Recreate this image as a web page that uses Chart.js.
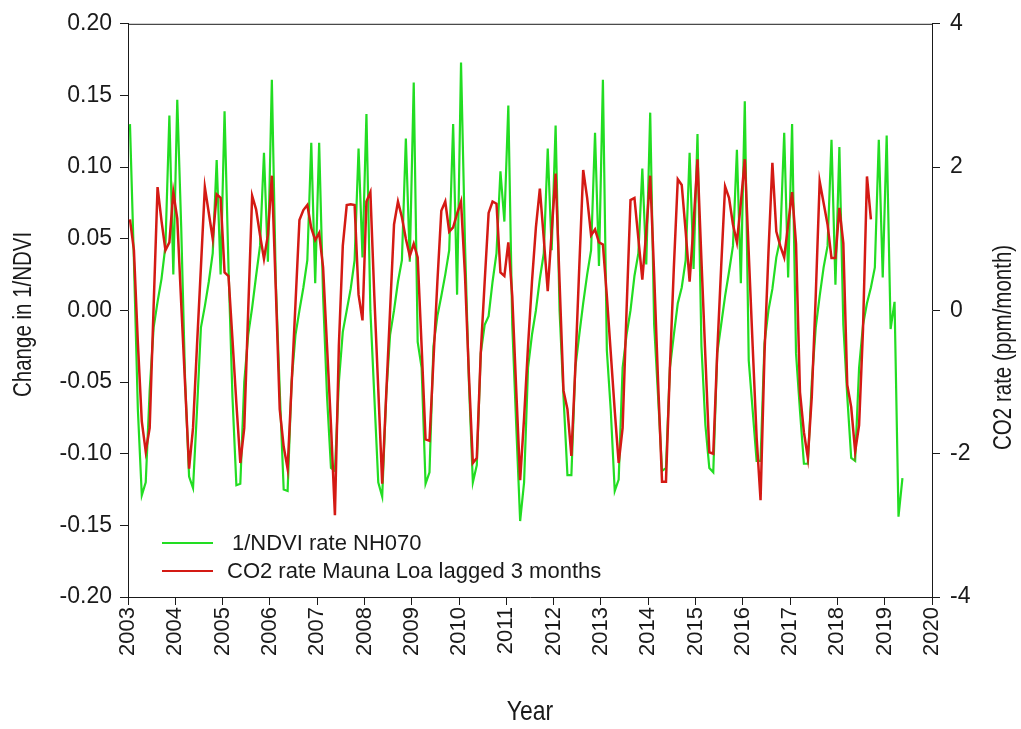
<!DOCTYPE html>
<html>
<head>
<meta charset="utf-8">
<script src="https://cdn.jsdelivr.net/npm/chart.js@4.4.1/dist/chart.umd.min.js"></script>
<style>
  html, body { margin: 0; padding: 0; background: #ffffff; }
  #wrap { width: 1021px; height: 729px; }
</style>
</head>
<body>
<div id="wrap"><canvas id="chart" width="1021" height="729"></canvas></div>
<script>
// Monthly series, first value = January 2003
const startYear = 2003;

// Month-to-month change in 1/NDVI, NH070 (Jan 2003 - May 2019)
const ndviRate = [
  0.130, 0.035, -0.069, -0.129, -0.120, -0.056, -0.012, 0.006, 0.022, 0.045, 0.136, 0.025,
  0.147, 0.058, -0.050, -0.116, -0.124, -0.070, -0.012, 0.003, 0.020, 0.040, 0.105, 0.025,
  0.139, 0.030, -0.060, -0.122, -0.121, -0.050, -0.017, 0.002, 0.024, 0.045, 0.110, 0.034,
  0.161, 0.020, -0.056, -0.125, -0.126, -0.050, -0.017, 0.000, 0.016, 0.035, 0.117, 0.019,
  0.117, 0.010, -0.060, -0.110, -0.112, -0.050, -0.015, 0.000, 0.015, 0.035, 0.113, 0.037,
  0.137, 0.000, -0.060, -0.120, -0.130, -0.060, -0.017, 0.000, 0.020, 0.035, 0.120, 0.034,
  0.159, -0.022, -0.040, -0.121, -0.113, -0.025, -0.004, 0.010, 0.025, 0.042, 0.130, 0.011,
  0.173, 0.047, -0.050, -0.120, -0.108, -0.030, -0.010, -0.004, 0.020, 0.040, 0.097, 0.062,
  0.143, -0.010, -0.080, -0.147, -0.120, -0.040, -0.017, 0.000, 0.022, 0.040, 0.113, 0.042,
  0.129, 0.000, -0.060, -0.115, -0.115, -0.040, -0.017, 0.005, 0.025, 0.042, 0.124, 0.031,
  0.161, -0.028, -0.070, -0.126, -0.118, -0.040, -0.017, 0.000, 0.024, 0.040, 0.099, 0.032,
  0.138, -0.010, -0.060, -0.112, -0.110, -0.040, -0.017, 0.005, 0.016, 0.035, 0.110, 0.029,
  0.123, -0.025, -0.080, -0.110, -0.113, -0.030, -0.010, 0.010, 0.027, 0.045, 0.112, 0.019,
  0.146, -0.035, -0.070, -0.105, -0.105, -0.023, 0.000, 0.015, 0.037, 0.050, 0.124, 0.023,
  0.130, -0.030, -0.070, -0.107, -0.107, -0.050, -0.012, 0.010, 0.030, 0.045, 0.119, 0.018,
  0.114, -0.010, -0.060, -0.103, -0.105, -0.040, -0.010, 0.005, 0.016, 0.030, 0.119, 0.023,
  0.122, -0.013, 0.006, -0.144, -0.117
];

// CO2 growth rate at Mauna Loa, ppm/month, lagged 3 months (Jan 2003 - Sep 2018)
const co2Rate = [
  1.27, 0.84, -0.45, -1.55, -1.97, -1.64, 0.05, 1.72, 1.25, 0.84, 0.95, 1.65,
  1.28, 0.10, -1.05, -2.21, -1.64, -0.50, 0.60, 1.72, 1.36, 1.00, 1.62, 1.57,
  0.53, 0.48, -0.40, -1.30, -2.13, -1.64, 0.00, 1.60, 1.41, 1.05, 0.72, 1.05,
  1.88, 0.30, -1.38, -1.90, -2.21, -1.05, 0.10, 1.26, 1.40, 1.47, 1.15, 0.98,
  1.08, 0.60, -0.50, -1.60, -2.86, -0.50, 0.90, 1.47, 1.48, 1.47, 0.22, -0.14,
  1.52, 1.65, 0.20, -1.10, -2.42, -1.20, 0.00, 1.20, 1.52, 1.30, 1.00, 0.76,
  0.93, 0.74, -0.50, -1.80, -1.82, -0.70, 0.40, 1.39, 1.52, 1.10, 1.16, 1.35,
  1.52, 0.50, -0.90, -2.13, -2.06, -0.60, 0.40, 1.36, 1.52, 1.49, 0.53, 0.48,
  0.95, 0.20, -1.10, -2.37, -1.50, -0.50, 0.40, 1.16, 1.70, 1.00, 0.27, 1.10,
  1.91, 0.40, -1.12, -1.38, -2.03, -0.80, 0.60, 1.96, 1.57, 1.05, 1.13, 0.95,
  0.92, 0.20, -0.60, -1.40, -2.13, -1.64, 0.00, 1.54, 1.57, 1.00, 0.43, 1.10,
  1.88, 0.50, -1.00, -2.39, -2.39, -0.80, 0.60, 1.83, 1.75, 1.10, 0.40, 1.20,
  2.11, 0.70, -0.65, -1.98, -2.00, -0.60, 0.60, 1.73, 1.57, 1.20, 0.95, 1.50,
  2.11, 0.80, -0.50, -1.77, -2.65, -0.60, 0.80, 2.06, 1.10, 0.90, 0.74, 1.20,
  1.65, 0.93, -1.14, -1.70, -2.06, -1.20, 0.20, 1.80, 1.50, 1.20, 0.73, 0.73,
  1.43, 0.94, -1.04, -1.35, -1.97, -1.60, -0.26, 1.87, 1.27
];

// Axis ticks
const yearTicks = [2003, 2004, 2005, 2006, 2007, 2008, 2009, 2010, 2011,
                   2012, 2013, 2014, 2015, 2016, 2017, 2018, 2019, 2020];
const ndviTicks = [-0.20, -0.15, -0.10, -0.05, 0.00, 0.05, 0.10, 0.15, 0.20];
const co2Ticks = [-4, -2, 0, 2, 4];

const seriesNames = ['1/NDVI rate NH070', 'CO2 rate Mauna Loa lagged 3 months'];
const axisTitles = { x: 'Year', left: 'Change in 1/NDVI', right: 'CO2 rate (ppm/month)' };

const GREEN = '#22dd22';
const RED = '#d41a14';
const INK = '#1a1a1a';
const FONT = "'Liberation Sans', Arial, sans-serif";

const monthly = (vals) => vals.map((v, i) => ({ x: startYear + (i + 0.5) / 12, y: v }));

// Condensed title text: squeeze the glyphs along the reading direction
function narrowText(ctx, text, x, y, angle) {
  ctx.save();
  ctx.translate(x, y);
  ctx.rotate(angle);
  ctx.scale(0.82, 1);
  ctx.fillText(text, 0, 0);
  ctx.restore();
}

// Frame, axis titles and in-plot legend
const decorations = {
  id: 'decorations',
  afterDraw(chart) {
    const { ctx, chartArea: a } = chart;
    ctx.save();
    ctx.strokeStyle = INK;
    ctx.lineWidth = 1;
    ctx.beginPath();
    ctx.moveTo(a.left, a.top + 0.5);
    ctx.lineTo(a.right, a.top + 0.5);
    ctx.stroke();

    ctx.fillStyle = INK;
    ctx.textAlign = 'center';
    ctx.textBaseline = 'middle';
    ctx.font = '28px ' + FONT;
    narrowText(ctx, axisTitles.x, (a.left + a.right) / 2, 712, 0);

    ctx.font = '25px ' + FONT;
    const midY = (a.top + a.bottom) / 2 + 4;
    narrowText(ctx, axisTitles.left, 24, midY, -Math.PI / 2);
    narrowText(ctx, axisTitles.right, 1004, midY + 33, -Math.PI / 2);

    // legend
    const rows = [
      { color: GREEN, y: 543, tx: 232, text: seriesNames[0], w: 2 },
      { color: RED, y: 571, tx: 227, text: seriesNames[1], w: 2.2 }
    ];
    ctx.font = '22px ' + FONT;
    ctx.textAlign = 'left';
    rows.forEach(r => {
      ctx.strokeStyle = r.color;
      ctx.lineWidth = r.w;
      ctx.beginPath();
      ctx.moveTo(162, r.y);
      ctx.lineTo(213, r.y);
      ctx.stroke();
      ctx.fillStyle = INK;
      ctx.fillText(r.text, r.tx, r.y + 1);
    });
    ctx.restore();
  }
};

const axisGrid = { drawOnChartArea: false, drawTicks: true, tickLength: 8, color: INK, tickColor: INK };
const axisBorder = { display: true, color: INK, width: 1 };

new Chart(document.getElementById('chart'), {
  type: 'line',
  data: {
    datasets: [
      {
        label: seriesNames[0],
        data: monthly(ndviRate),
        yAxisID: 'y',
        borderColor: GREEN,
        borderWidth: 2.2,
        pointRadius: 0,
        tension: 0,
        order: 1
      },
      {
        label: seriesNames[1],
        data: monthly(co2Rate),
        yAxisID: 'y2',
        borderColor: RED,
        borderWidth: 2.5,
        pointRadius: 0,
        tension: 0,
        order: 0
      }
    ]
  },
  options: {
    responsive: false,
    animation: false,
    devicePixelRatio: 1,
    layout: { padding: { top: 22, left: 0, right: 0, bottom: 0 } },
    plugins: { legend: { display: false }, tooltip: { enabled: false } },
    scales: {
      x: {
        type: 'linear',
        min: 2003,
        max: 2020,
        grid: axisGrid,
        border: axisBorder,
        afterBuildTicks: s => { s.ticks = yearTicks.map(v => ({ value: v })); },
        afterFit: s => { s.height = 132; },
        ticks: {
          color: INK,
          font: { family: FONT, size: 22 },
          padding: 2,
          minRotation: 90,
          maxRotation: 90,
          autoSkip: false,
          callback: v => String(v)
        }
      },
      y: {
        position: 'left',
        min: -0.2,
        max: 0.2,
        grid: axisGrid,
        border: axisBorder,
        afterBuildTicks: s => { s.ticks = ndviTicks.map(v => ({ value: v })); },
        afterFit: s => { s.width = 128; },
        ticks: {
          color: INK,
          font: { family: FONT, size: 23 },
          padding: 8,
          callback: v => (Math.abs(v) < 1e-9 ? 0 : v).toFixed(2)
        }
      },
      y2: {
        position: 'right',
        min: -4,
        max: 4,
        grid: axisGrid,
        border: axisBorder,
        afterBuildTicks: s => { s.ticks = co2Ticks.map(v => ({ value: v })); },
        afterFit: s => { s.width = 89; },
        ticks: {
          color: INK,
          font: { family: FONT, size: 23 },
          padding: 10,
          callback: v => String(v)
        }
      }
    }
  },
  plugins: [decorations]
});
</script>
</body>
</html>
